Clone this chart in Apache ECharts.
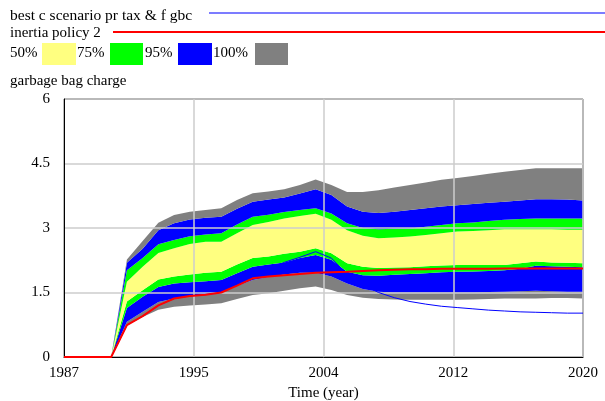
<!DOCTYPE html>
<html><head><meta charset="utf-8">
<script src="https://cdn.jsdelivr.net/npm/echarts@6/dist/echarts.min.js"></script>
<style>html,body{margin:0;padding:0;background:#fff}#c{width:605px;height:401px}</style>
</head><body><div id="c"></div>
<script>
const years = [1987,1988,1989,1990,1991,1992,1993,1994,1995,1996,1997,1998,1999,2000,2001,2002,2003,2004,2005,2006,2007,2008,2009,2010,2011,2012,2013,2014,2015,2016,2017,2018,2019,2020];
// band boundaries (percentile envelopes) of garbage bag charge
const p0   = [0,0,0,0,0.74,0.93,1.10,1.17,1.20,1.22,1.25,1.35,1.44,1.48,1.54,1.60,1.64,1.56,1.44,1.38,1.35,1.34,1.33,1.33,1.33,1.33,1.34,1.35,1.36,1.36,1.36,1.37,1.37,1.36];
const p025 = [0,0,0,0,0.82,1.05,1.28,1.36,1.42,1.44,1.48,1.65,1.79,1.86,1.92,1.96,1.96,1.87,1.71,1.58,1.52,1.50,1.50,1.50,1.50,1.50,1.50,1.51,1.52,1.53,1.54,1.53,1.52,1.52];
const p125 = [0,0,0,0,1.14,1.40,1.63,1.71,1.74,1.76,1.79,1.95,2.10,2.15,2.20,2.30,2.37,2.26,1.98,1.90,1.89,1.91,1.93,1.95,1.97,1.98,1.99,2.00,2.02,2.05,2.12,2.11,2.10,2.09];
const p25  = [0,0,0,0,1.29,1.55,1.80,1.87,1.92,1.96,1.98,2.15,2.30,2.34,2.40,2.45,2.53,2.41,2.18,2.10,2.07,2.08,2.09,2.11,2.13,2.14,2.14,2.14,2.14,2.18,2.22,2.20,2.19,2.18];
const p75  = [0,0,0,0,1.75,2.10,2.42,2.53,2.63,2.68,2.68,2.88,3.07,3.14,3.22,3.28,3.33,3.19,2.95,2.82,2.76,2.78,2.80,2.84,2.88,2.92,2.93,2.95,2.97,2.97,2.97,2.97,2.96,2.96];
const p875 = [0,0,0,0,2.02,2.30,2.62,2.72,2.81,2.85,2.88,3.08,3.26,3.31,3.37,3.42,3.46,3.34,3.11,3.00,2.97,2.98,2.99,3.03,3.07,3.11,3.13,3.16,3.19,3.21,3.22,3.22,3.22,3.22];
const p975 = [0,0,0,0,2.19,2.52,2.95,3.11,3.20,3.24,3.26,3.45,3.61,3.66,3.71,3.80,3.90,3.77,3.50,3.38,3.35,3.38,3.42,3.46,3.50,3.53,3.56,3.59,3.61,3.64,3.67,3.67,3.66,3.64];
const p100 = [0,0,0,0,2.27,2.70,3.12,3.30,3.38,3.42,3.46,3.65,3.81,3.85,3.90,4.00,4.13,4.00,3.84,3.84,3.88,3.94,4.00,4.06,4.12,4.16,4.21,4.26,4.31,4.35,4.39,4.39,4.39,4.39];
const bestC    = [0,0,0,0,0.74,0.95,1.20,1.36,1.42,1.45,1.50,1.68,1.88,2.05,2.20,2.32,2.45,2.30,1.92,1.68,1.50,1.38,1.29,1.23,1.18,1.15,1.12,1.09,1.07,1.05,1.04,1.03,1.02,1.02];
const inertia  = [0,0,0,0,0.74,0.95,1.20,1.36,1.42,1.45,1.50,1.66,1.83,1.87,1.90,1.93,1.96,1.97,1.98,2.00,2.02,2.03,2.04,2.04,2.05,2.05,2.05,2.05,2.06,2.06,2.06,2.06,2.06,2.06];
const xTicks = [1987,1995,2004,2012,2020];
const yTicks = [0,1.5,3,4.5,6];

const FONT = '"Liberation Serif","Times New Roman",serif';
const x0 = years[0];
const diff = (a,b) => a.map((v,i)=>+(v-b[i]).toFixed(4));

const bands = [
  {lo:p0, hi:p025, c:'#808080'},
  {lo:p025, hi:p125, c:'#0000ff'},
  {lo:p125, hi:p25, c:'#00ff00'},
  {lo:p25, hi:p75, c:'#ffff80'},
  {lo:p75, hi:p875, c:'#00ff00'},
  {lo:p875, hi:p975, c:'#0000ff'},
  {lo:p975, hi:p100, c:'#808080'}
];
const series = [{
  type:'line', stack:'b', data:p0.slice(), symbol:'none', silent:true, z:1,
  lineStyle:{width:0,opacity:0}
}];
bands.forEach(b=>series.push({
  type:'line', stack:'b', data:diff(b.hi,b.lo), symbol:'none', silent:true, z:1,
  lineStyle:{width:0,opacity:0}, areaStyle:{color:b.c,opacity:1}
}));
series.push({type:'line', data:bestC, symbol:'none', lineStyle:{color:'#0000ff',width:1}, z:5});
series.push({type:'line', data:inertia, symbol:'none', lineStyle:{color:'#ff0000',width:2}, z:6});

const txt = (x,y,s,extra)=>({type:'text', left:x, top:y, style:Object.assign({text:s, font:'15px '+FONT, fill:'#000'},extra||{})});
const graphic = [
  txt(10,8,'best c scenario pr tax & f gbc',{font:'15.5px '+FONT}),
  {type:'line', shape:{x1:209,y1:13,x2:605,y2:13}, style:{stroke:'#5050ff',lineWidth:1.5}},
  txt(10,26,'inertia policy 2'),
  {type:'line', shape:{x1:113,y1:32,x2:605,y2:32}, style:{stroke:'#ff0000',lineWidth:2}},
  txt(10,46,'50%'),
  {type:'rect', shape:{x:42,y:43,width:34,height:22}, style:{fill:'#ffff80'}},
  txt(77,46,'75%'),
  {type:'rect', shape:{x:110,y:43,width:33,height:22}, style:{fill:'#00ff00'}},
  txt(145,46,'95%'),
  {type:'rect', shape:{x:178,y:43,width:34,height:22}, style:{fill:'#0000ff'}},
  txt(213,46,'100%'),
  {type:'rect', shape:{x:255,y:43,width:33,height:22}, style:{fill:'#808080'}},
  txt(10,74,'garbage bag charge')
];

const chart = echarts.init(document.getElementById('c'), null, {renderer:'canvas'});
chart.setOption({
  animation:false,
  grid:{left:64,right:22,top:99,bottom:44,show:true,borderColor:'#000',borderWidth:1,backgroundColor:'transparent',
    containLabel:false, outerBoundsMode:'none'},
  xAxis:[
    {type:'category', data:years.map(String), boundaryGap:false, show:false},
    {type:'value', min:0, max:years[years.length-1]-x0, interval:(xTicks[4]-xTicks[0])/4, z:3, position:'bottom',
    axisLine:{show:true,lineStyle:{color:'#000'}}, axisTick:{show:false},
    splitLine:{show:true,lineStyle:{color:'#cccccc',width:1.5}},
    axisLabel:{color:'#000',fontFamily:FONT,fontSize:15,margin:9,formatter:v=>String(Math.round(v+x0))},
    name:'Time (year)', nameLocation:'middle', nameGap:29,
    nameTextStyle:{color:'#000',fontFamily:FONT,fontSize:15}}
  ],
  yAxis:{type:'value', min:yTicks[0], max:yTicks[4], interval:yTicks[1]-yTicks[0], z:3,
    axisLine:{show:true,lineStyle:{color:'#000'}}, axisTick:{show:false},
    splitLine:{show:true,lineStyle:{color:'#cccccc',width:1.5}},
    axisLabel:{color:'#000',fontFamily:FONT,fontSize:15,margin:14}},
  series:series,
  graphic:graphic
});
</script></body></html>
